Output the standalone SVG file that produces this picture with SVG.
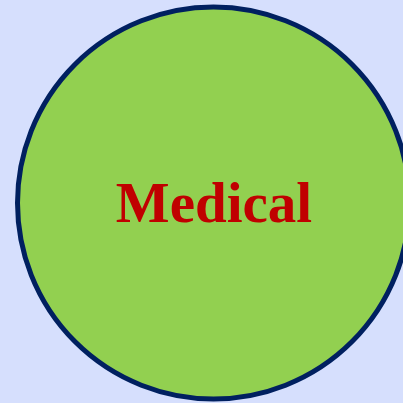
<svg xmlns="http://www.w3.org/2000/svg" width="403" height="403" viewBox="0 0 403 403">
<style>
.bg{fill:#d6dffd}
.node circle{fill:#92d050;stroke:#002060;stroke-width:5}
.node text{font-family:"Liberation Serif",serif;font-weight:bold;font-size:57px;fill:#c00000;text-anchor:middle}
</style>
<rect class="bg" x="0" y="0" width="403" height="403"/>
<g id="connectors"/>
<g id="medical" class="node">
<circle cx="213.5" cy="203" r="196"/>
<text x="214" y="222">Medical</text>
</g>
</svg>
